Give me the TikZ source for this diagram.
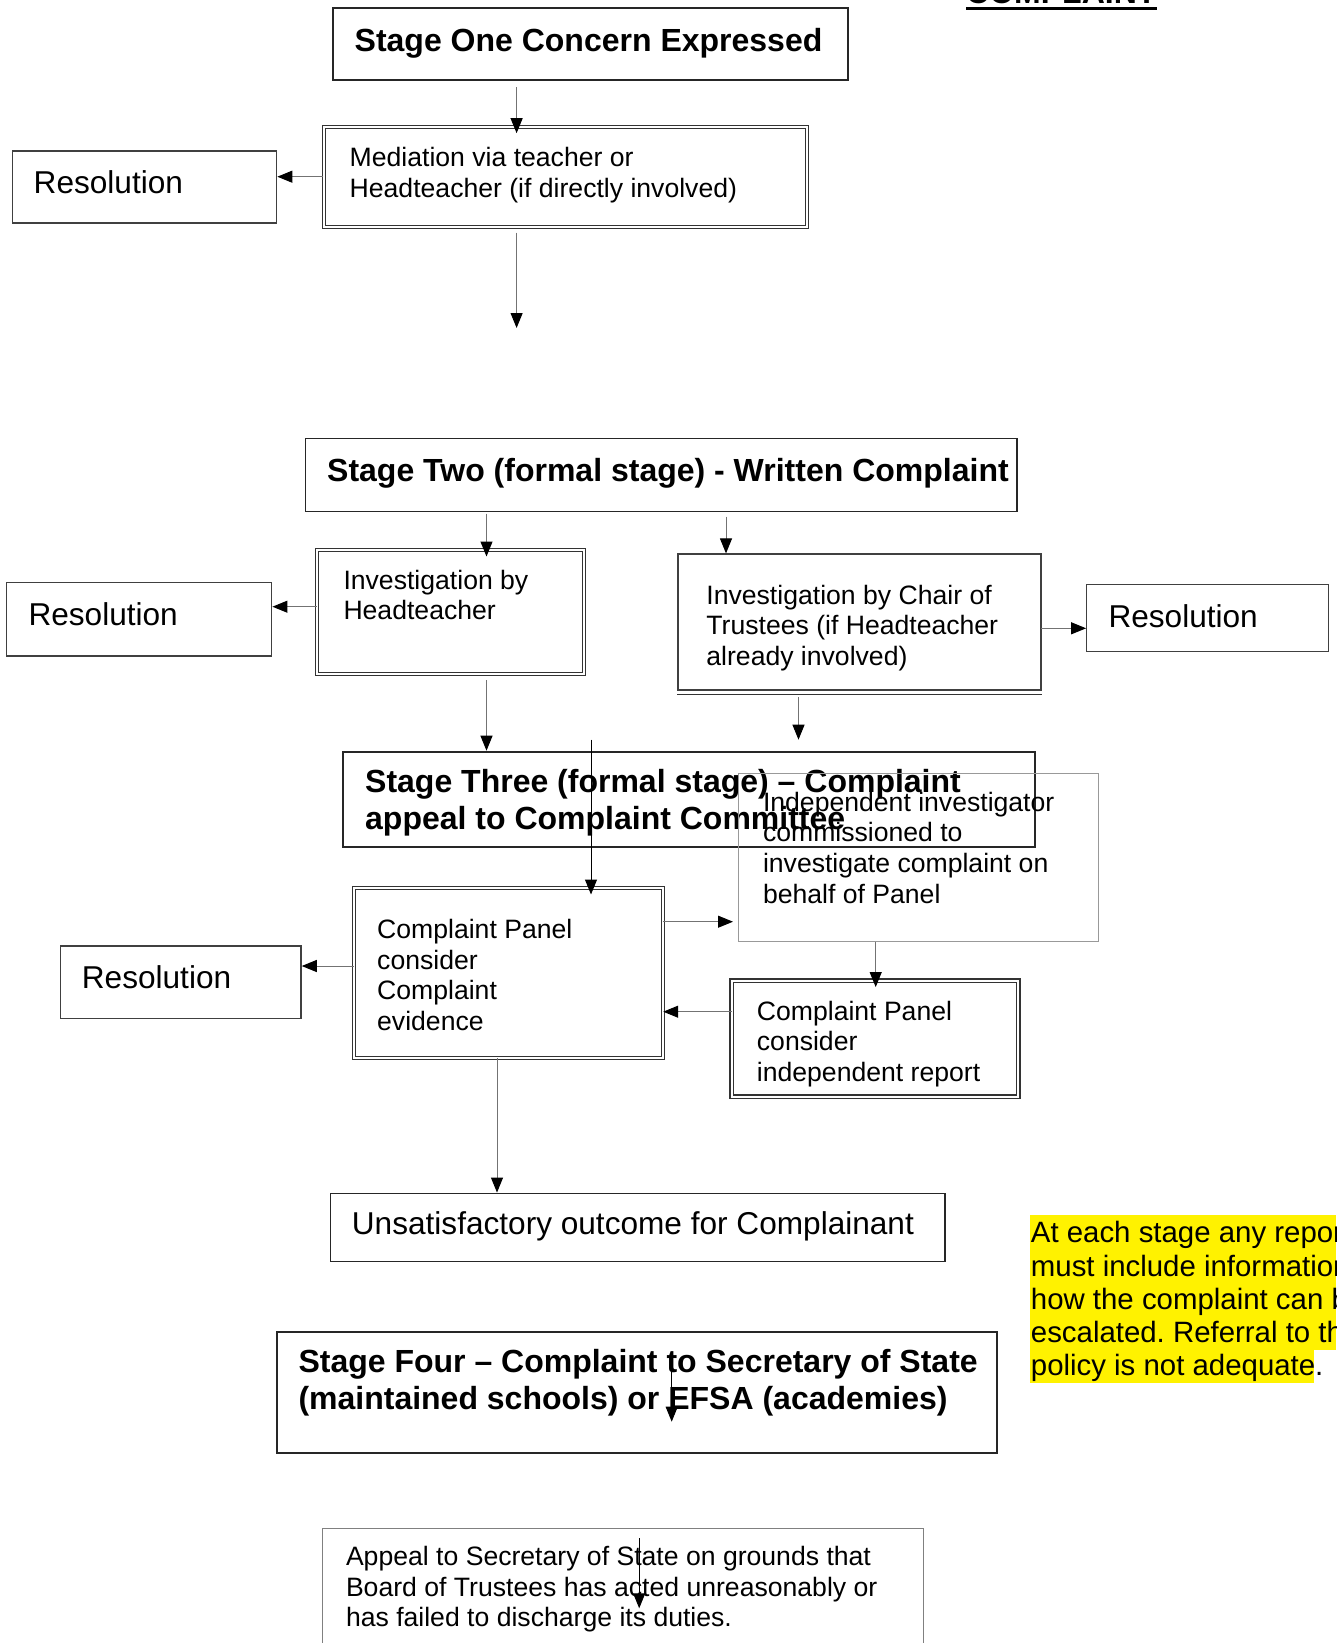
\documentclass[tikz,border=0pt]{standalone}
\usepackage{fontspec}
\setmainfont{Liberation Sans}
\usetikzlibrary{arrows.meta,fit,calc}
\frenchspacing

\tikzset{
  stagebox/.style={draw=black!85, line width=2pt, inner sep=0pt},
  resbox/.style={draw=black!75, line width=1.5pt, inner sep=0pt},
  dblbox/.style={draw=black!80, double, double distance=2pt, line width=1pt, inner sep=0pt},
  thinbox/.style={draw=black!40, line width=1pt, inner sep=0pt},
  flow/.style={draw=black!55, line width=1pt, -{Triangle[length=15pt,width=12pt,color=black]}},
  into/.style={shorten >=-7pt},
  % multi-line texts: the base anchor sits on the last line
  headtext/.style={font=\fontsize{32}{36.6}\selectfont\bfseries, align=left, anchor=base west, inner sep=0pt},
  bodytext/.style={font=\fontsize{26.6}{30.6}\selectfont, align=left, anchor=base west, inner sep=0pt},
  restext/.style={font=\fontsize{31.6}{36}\selectfont, anchor=base west, inner sep=0pt},
  notetext/.style={font=\fontsize{29.4}{33.3}\selectfont, align=left, anchor=base west, inner sep=0pt},
}

\begin{document}
\begin{tikzpicture}[x=1pt,y=1pt,yscale=-1]
\path[use as bounding box, fill=white] (0,0) rectangle (1336,1643);

% title, cut off at the top edge
\node[headtext] (cmp) at (966,4) {COMPLAINT};
\draw[line width=3pt] ($(cmp.base west)+(0,4.5)$) -- ($(cmp.base east)+(0,4.5)$);

%Stage one
\node[stagebox, fit={(333.2,8.3) (847.5,80.5)}] (one) {};
\node[headtext] (onetxt) at (354.5,51.5) {Stage One Concern Expressed};
\node[dblbox, fit={(323.8,126.7) (806.8,226.7)}] (medi) {};
\node[bodytext] (meditxt) at (349.5,197.1) {Mediation via teacher or\\Headteacher (if directly involved)};
\node[resbox, fit={(12.6,150.9) (276.6,223.2)}] (res1) {};
\node[restext] (res1txt) at (33.5,193.5) {Resolution};

\coordinate (a1) at (516.6,87.5);
\draw[flow, into] (a1) -- (a1 |- medi.north);
\draw[flow] (medi.west) -- (medi.west -| res1.east);
\coordinate (a2) at (516.6,232.5);
\coordinate (a2end) at (516.6,328);
\draw[flow] (a2) -- (a2end);

%Stage two
\node[stagebox, line width=1.5pt, fit={(305.5,438.5) (1017,511.5)}] (two) {};
\node[headtext] (twotxt) at (327,481) {Stage Two (formal stage) - Written Complaint};
\node[dblbox, fit={(316.7,550) (583.6,674)}] (invh) {};
\node[bodytext] (invhtxt) at (343.3,619.9) {Investigation by\\Headteacher};
\node[resbox, fit={(6.7,582.7) (271.7,656)}] (res2) {};
\node[restext] (res2txt) at (28.3,625) {Resolution};
\node[resbox, line width=1.2pt, fit={(677.9,554) (1041,690)}] (chair) {};
\draw[black!80, line width=1pt] ($(chair.south west)+(0,3.5)$) -- ($(chair.south east)+(0,3.5)$);
\node[bodytext] (chairtxt) at (706.2,665.2) {Investigation by Chair of\\Trustees (if Headteacher\\already involved)};
\node[resbox, line width=1.2pt, fit={(1086.7,584.3) (1328.3,651.7)}] (res3) {};
\node[restext] (res3txt) at (1108.3,627.3) {Resolution};

\coordinate (a3) at (486.5,513.5);
\draw[flow, into] (a3) -- (a3 |- invh.north);
\coordinate (a4) at (726,516.5);
\draw[flow] (a4) -- (a4 |- chair.north);
\coordinate (a5) at (316.7,606.7);
\draw[flow] (a5) -- (a5 -| res2.east);
\coordinate (a6) at (1041,628.3);
\draw[flow] (a6) -- (a6 -| res3.west);
\coordinate (a8) at (798.5,697);
\coordinate (a8end) at (798.5,739.7);
\draw[flow] (a8) -- (a8end);

%Stage three
\node[stagebox, fit={(342.7,751.7) (1035.2,847.3)}] (three) {};
\node[headtext] (threetxt) at (365,829.5) {Stage Three (formal stage) – Complaint\\appeal to Complaint Committee};
\node[thinbox, fit={(738.5,773.3) (1098.1,941.7)}] (indep) {};
\node[bodytext] (indeptxt) at (762.8,903) {Independent investigator\\commissioned to\\investigate complaint on\\behalf of Panel};
\node[dblbox, fit={(353.5,888) (662.7,1058.3)}] (panel) {};
\node[bodytext] (paneltxt) at (377,1030.5) {Complaint Panel\\consider\\Complaint\\evidence};
\node[resbox, fit={(60.7,946) (301,1018.3)}] (res4) {};
\node[restext] (res4txt) at (81.7,988.3) {Resolution};
\node[dblbox, line width=1.3pt, fit={(731.7,980.7) (1018.3,1096.7)}] (report) {};
\node[bodytext] (reporttxt) at (756.7,1081.5) {Complaint Panel\\consider\\independent report};

\coordinate (a7) at (486.5,680);
\draw[flow] (a7) -- (a7 |- three.north);
\coordinate (a9) at (591,739.7);
\draw[flow, draw=black, into] (a9) -- (a9 |- panel.north);
\coordinate (a10) at (353.5,966);
\draw[flow] (a10) -- (a10 -| res4.east);
\coordinate (a11) at (662.7,921.7);
\draw[flow, shorten >=5pt] (a11) -- (a11 -| indep.west);
\coordinate (a12) at (875.7,941.7);
\draw[flow, into] (a12) -- (a12 |- report.north);
\coordinate (a13) at (731.7,1011.7);
\draw[flow] (a13) -- (a13 -| panel.east);

\node[stagebox, line width=1.5pt, fit={(330.7,1193.3) (945.1,1261.7)}] (unsat) {};
\node[restext] (unsattxt) at (351.7,1234.3) {Unsatisfactory outcome for Complainant};
\coordinate (a14) at (497,1058.3);
\draw[flow] (a14) -- (a14 |- unsat.north);

% highlighted note
\fill[yellow] (1030,1215) rectangle (1336,1350);
\fill[yellow] (1030,1350) rectangle (1314,1383);
\node[notetext] (note) at (1030.7,1375.9) {At each stage any report\\must include information\\how the complaint can be\\escalated. Referral to the\\policy is not adequate.};

%Stage four
\node[stagebox, fit={(276.7,1332.3) (996.5,1452.7)}] (four) {};
\node[headtext] (fourtxt) at (298.3,1409.3) {Stage Four – Complaint to Secretary of State\\(maintained schools) or EFSA (academies)};
\coordinate (a15) at (671.7,1371.7);
\coordinate (a15end) at (671.7,1421.7);
\draw[flow, draw=black] (a15) -- (a15end);

\node[thinbox, draw=black!50, fit={(322.7,1528.3) (923.1,1662)}] (appeal) {};
\node[bodytext] (appealtxt) at (345.8,1626.7) {Appeal to Secretary of State on grounds that\\Board of Trustees has acted unreasonably or\\has failed to discharge its duties.};
\coordinate (a16) at (639.2,1538.3);
\coordinate (a16end) at (639.2,1608.3);
\draw[flow, draw=black] (a16) -- (a16end);
\end{tikzpicture}
\end{document}
